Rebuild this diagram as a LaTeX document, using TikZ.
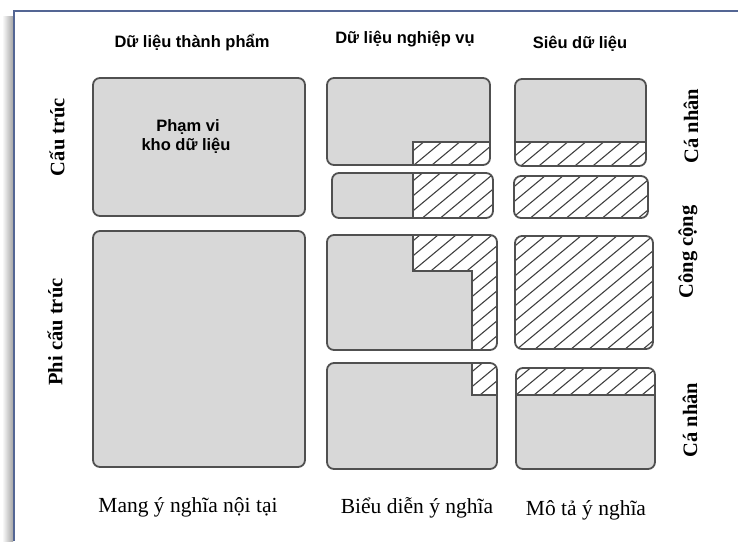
\documentclass[tikz,border=0pt]{standalone}
\usepackage{fontspec}
\setmainfont{Liberation Serif}
\newfontfamily\headfont{Liberation Sans}
\definecolor{panelgray}{RGB}{216,216,216}
\definecolor{panelline}{RGB}{80,80,80}
\definecolor{hatchgray}{RGB}{64,64,64}
\definecolor{frameblue}{RGB}{84,102,148}

% one rounded panel, no hatching
\newcommand\plainpanel[2]{%
  \fill[panelfill] (#1) rectangle (#2);
  \draw[panel] (#1) rectangle (#2);
}
% one rounded panel with a hatched part given as a closed path
\newcommand\hatchpanel[3]{%
  \fill[panelfill] (#1) rectangle (#2);
  \begin{scope}
    \clip[rounded corners=7pt] (#1) rectangle (#2);
    \begin{scope}
      \clip #3;
      \fill[white] (0,0) rectangle (738,541);
      \foreach \c in {0,18,...,1404} \draw[hatchline] (\c,0) -- ({\c-649.2},541);
    \end{scope}
    \draw[hatchedge] #3;
  \end{scope}
  \draw[panel] (#1) rectangle (#2);
}

\begin{document}
\begin{tikzpicture}[x=1pt,y=-1pt,
  panelfill/.style={fill=panelgray, rounded corners=7pt},
  panel/.style={draw=panelline, line width=1.8pt, rounded corners=7pt},
  hatchline/.style={draw=hatchgray, line width=1.1pt},
  hatchedge/.style={draw=panelline, line width=1.5pt},
  frameline/.style={draw=frameblue, line width=2.2pt},
  head/.style={font=\headfont\bfseries\fontsize{16.5}{19}\selectfont, inner sep=0pt, anchor=base},
  inner/.style={font=\headfont\bfseries\fontsize{16.5}{20}\selectfont, inner sep=0pt, anchor=base},
  side/.style={font=\bfseries\fontsize{20.5}{24}\selectfont, inner sep=0pt, rotate=90},
  foot/.style={font=\fontsize{21.5}{25}\selectfont, inner sep=0pt, anchor=base}]
\useasboundingbox (0,0) rectangle (738,541);
\fill[white] (0,0) rectangle (738,541);

% page edge with its shadow
\shade[left color=white, right color=black!35] (2,16) rectangle (13,541);
\draw[frameline] (14,541) -- (14,11) -- (738,11);

% column headers
\node[head] (hprod) at (192,47) {Dữ liệu thành phẩm};
\node[head] (hbiz)  at (405,43) {Dữ liệu nghiệp vụ};
\node[head] (hmeta) at (580,48) {Siêu dữ liệu};

% row labels, left
\node[side] (lstruct)   at (57,137) {Cấu trúc};
\node[side] (lunstruct) at (55,332) {Phi cấu trúc};

% row labels, right
\node[side] (rpriv1) at (691,126) {Cá nhân};
\node[side] (rpub)   at (688,252) {Công cộng};
\node[side] (rpriv2) at (690,420) {Cá nhân};

% finished data
\plainpanel{93,78}{305,216}
\plainpanel{93,231}{305,467}
\node[inner] (scope1) at (188,131) {Phạm vi};
\node[inner] (scope2) at (186,150) {kho dữ liệu};

% business data
\hatchpanel{327,78}{490,165}{(413,142) rectangle (490,165)}
\hatchpanel{332,173}{493,218}{(413,173) rectangle (493,218)}
\hatchpanel{327,235}{497,350}{(413,235) -- (413,271) -- (472,271) -- (472,350) -- (497,350) -- (497,235) -- cycle}
\hatchpanel{327,363}{497,469}{(472,363) rectangle (497,395)}

% metadata
\hatchpanel{515,79}{646,166}{(515,142) rectangle (646,166)}
\hatchpanel{514,176}{648,218}{(514,176) rectangle (648,218)}
\hatchpanel{515,236}{653,349}{(515,236) rectangle (653,349)}
\hatchpanel{516,368}{655,469}{(516,368) rectangle (655,395)}

% column footers
\node[foot] (fprod) at (188,512) {Mang ý nghĩa nội tại};
\node[foot] (fbiz)  at (417,513) {Biểu diễn ý nghĩa};
\node[foot] (fmeta) at (586,515) {Mô tả ý nghĩa};
\end{tikzpicture}
\end{document}
